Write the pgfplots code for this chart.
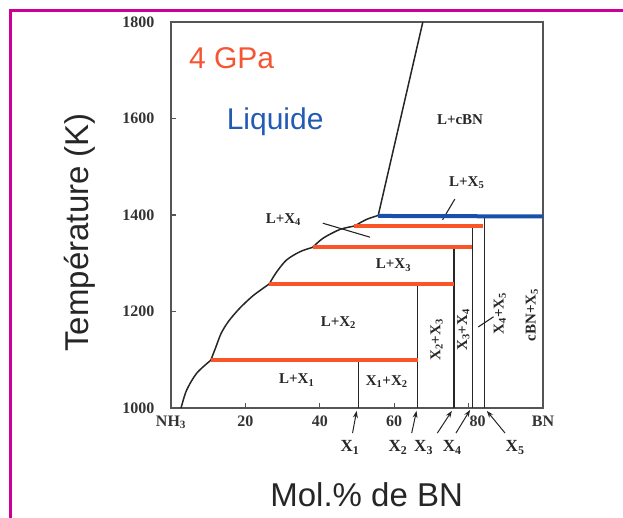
\documentclass[border=0pt]{standalone}
\usepackage{pgfplots}
\pgfplotsset{compat=1.18}
\usepackage{fontspec}
\setmainfont{Liberation Sans}
\newfontfamily\tnr{Liberation Serif}
\usetikzlibrary{arrows.meta}
\definecolor{frame}{RGB}{204,0,153}
\definecolor{org}{RGB}{250,85,40}
\definecolor{orgtxt}{RGB}{245,85,50}
\definecolor{bl}{RGB}{25,80,170}
\definecolor{bltxt}{RGB}{35,90,180}
\definecolor{axgray}{RGB}{85,85,85}
\begin{document}
\begin{tikzpicture}
\path[use as bounding box] (-171pt,-110pt) rectangle (452pt,408pt);
\draw[frame, line width=3pt] (-160.3pt,-110pt) -- (-160.3pt,397.3pt) -- (452pt,397.3pt);
\begin{axis}[
  at={(0,0)}, anchor=south west,
  scale only axis, width=372pt, height=386pt,
  xmin=0, xmax=100, ymin=1000, ymax=1800,
  xtick={0,20,40,60,80,100},
  xticklabels={NH\textsubscript{3},20,40,60,\hspace*{18pt}80,BN},
  ytick={1000,1200,1400,1600,1800},
  tick pos=left, tick align=inside, major tick length=5pt,
  axis line style={draw=axgray, line width=1.6pt},
  tick style={draw=axgray, line width=1.2pt},
  /pgf/number format/assume math mode=true,
  /pgf/number format/1000 sep={},
  ticklabel style={font=\tnr\bfseries\fontsize{16}{16}\selectfont, text=black!80},
  xticklabel style={yshift=-4pt},
  yticklabel style={xshift=-13pt},
  xlabel={Mol.\% de BN},
  ylabel={Température (K)},
  xlabel style={at={(axis description cs:0.526,-0.225)}, anchor=center, font=\fontsize{33}{33}\selectfont, text=black!85},
  ylabel style={at={(axis description cs:-0.245,0.455)}, anchor=center, font=\fontsize{33}{33}\selectfont, text=black!85},
  clip=false,
]
% liquidus curve segments
\addplot[black!85, line width=1.5pt, smooth] coordinates {(2.7,1000) (4.2,1037) (6.9,1072) (10.7,1099)};
\addplot[black!85, line width=1.5pt, smooth] coordinates {(10.7,1099) (12.0,1125) (13.5,1155) (15.5,1180) (18.5,1207) (22.1,1233) (26.4,1257)};
\addplot[black!85, line width=1.5pt, smooth] coordinates {(26.4,1257) (28.4,1282) (31.1,1307) (34.7,1324) (38.1,1333)};
\addplot[black!85, line width=1.5pt, smooth] coordinates {(38.1,1333) (40.9,1352) (45.4,1370) (49.3,1377)};
\addplot[black!85, line width=1.5pt, smooth] coordinates {(49.3,1377) (52.6,1391) (55.7,1399)};
\addplot[black!85, line width=1.5pt] coordinates {(55.7,1399) (67.7,1800)};
% vertical lines
\addplot[black!85, line width=1.2pt] coordinates {(50.4,1099) (50.4,1000)};
\addplot[black!85, line width=1.2pt] coordinates {(66.3,1258) (66.3,1000)};
\addplot[black!85, line width=1.2pt] coordinates {(76.1,1334) (76.1,1000)};
\addplot[black!85, line width=1.2pt] coordinates {(81.0,1377) (81.0,1000)};
\addplot[black!85, line width=1.2pt] coordinates {(84.2,1398) (84.2,1000)};
% leader lines
\addplot[black!85, line width=1.1pt] coordinates {(40.8,1383) (53.5,1354)};
\addplot[black!85, line width=1.1pt] coordinates {(76.3,1433) (73.0,1390)};
\addplot[black!85, line width=1.1pt] coordinates {(82.6,1168) (86.7,1189)};
% eutectic / peritectic lines
\addplot[org, line width=4pt] coordinates {(49.2,1377) (84.0,1377)};
\addplot[org, line width=4pt] coordinates {(38.1,1334) (81.0,1334)};
\addplot[org, line width=4pt] coordinates {(26.3,1258) (76.1,1258)};
\addplot[org, line width=4pt] coordinates {(10.8,1099) (66.3,1099)};
\addplot[bl, line width=4pt] coordinates {(55.7,1398) (100,1397)};
% labels
\begin{scope}[every node/.style={font=\tnr\bfseries\fontsize{15}{15}\selectfont, text=black!85}]
\node at (axis cs:77.7,1597) {L+cBN};
\node at (axis cs:79.5,1467) {L+X\textsubscript{5}};
\node at (axis cs:30.2,1391) {L+X\textsubscript{4}};
\node at (axis cs:59.8,1296) {L+X\textsubscript{3}};
\node at (axis cs:45.0,1177) {L+X\textsubscript{2}};
\node at (axis cs:33.8,1058) {L+X\textsubscript{1}};
\node at (axis cs:58.0,1055) {X\textsubscript{1}+X\textsubscript{2}};
\node[rotate=90] at (axis cs:71.4,1141) {X\textsubscript{2}+X\textsubscript{3}};
\node[rotate=90] at (axis cs:78.6,1162) {X\textsubscript{3}+X\textsubscript{4}};
\node[rotate=90] at (axis cs:88.4,1196) {X\textsubscript{4}+X\textsubscript{5}};
\node[rotate=90] at (axis cs:97.0,1193) {cBN+X\textsubscript{5}};
\end{scope}
\begin{scope}[every node/.style={font=\tnr\bfseries\fontsize{17}{17}\selectfont, text=black!85}]
\node at (axis cs:48.1,918) {X\textsubscript{1}};
\node at (axis cs:61.0,918) {X\textsubscript{2}};
\node at (axis cs:67.9,918) {X\textsubscript{3}};
\node at (axis cs:75.6,918) {X\textsubscript{4}};
\node at (axis cs:92.5,918) {X\textsubscript{5}};
\end{scope}
\node[text=orgtxt, font=\fontsize{30}{30}\selectfont] at (axis cs:16.3,1725) {4 GPa};
\node[text=bltxt, font=\fontsize{30}{30}\selectfont] at (axis cs:28.0,1593) {Liquide};
% arrows
\begin{scope}[black!85, line width=1pt]
\draw[-{Stealth[length=7pt,width=5pt]}] (axis cs:48.8,948) -- (axis cs:49.9,994);
\draw[-{Stealth[length=7pt,width=5pt]}] (axis cs:64.7,948) -- (axis cs:66.0,994);
\draw[-{Stealth[length=7pt,width=5pt]}] (axis cs:71.6,948) -- (axis cs:75.5,994);
\draw[-{Stealth[length=7pt,width=5pt]}] (axis cs:76.6,948) -- (axis cs:80.4,996);
\draw[-{Stealth[length=7pt,width=5pt]}] (axis cs:89.8,948) -- (axis cs:84.9,994);
\end{scope}
\end{axis}
\end{tikzpicture}
\end{document}
